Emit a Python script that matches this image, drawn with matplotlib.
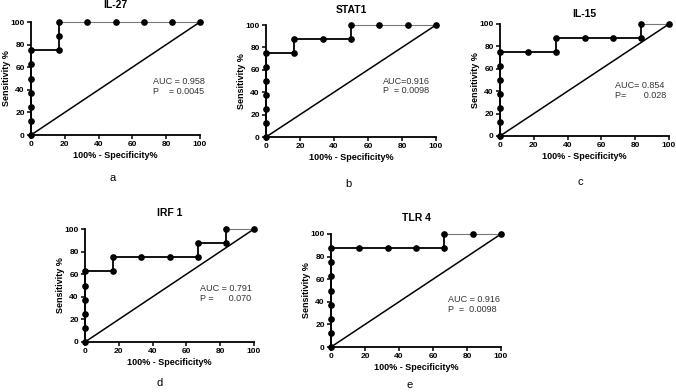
import matplotlib
matplotlib.use('Agg')
import matplotlib.pyplot as plt

plt.rcParams['font.family'] = ['Liberation Sans', 'DejaVu Sans']

# ROC points (100% - specificity, sensitivity)
il27_x = [0, 0, 0, 0, 0, 0, 0, 16.67, 16.67, 16.67, 33.33, 50, 66.67, 83.33, 100]
il27_y = [0, 12.5, 25, 37.5, 50, 62.5, 75, 75, 87.5, 100, 100, 100, 100, 100, 100]

stat1_x = [0, 0, 0, 0, 0, 0, 0, 16.67, 16.67, 33.33, 50, 50, 66.67, 83.33, 100]
stat1_y = [0, 12.5, 25, 37.5, 50, 62.5, 75, 75, 87.5, 87.5, 87.5, 100, 100, 100, 100]

il15_x = [0, 0, 0, 0, 0, 0, 0, 16.67, 33.33, 33.33, 50, 66.67, 83.33, 83.33, 100]
il15_y = [0, 12.5, 25, 37.5, 50, 62.5, 75, 75, 75, 87.5, 87.5, 87.5, 87.5, 100, 100]

irf1_x = [0, 0, 0, 0, 0, 0, 16.67, 16.67, 33.33, 50, 66.67, 66.67, 83.33, 83.33, 100]
irf1_y = [0, 12.5, 25, 37.5, 50, 62.5, 62.5, 75, 75, 75, 75, 87.5, 87.5, 100, 100]

tlr4_x = [0, 0, 0, 0, 0, 0, 0, 0, 16.67, 33.33, 50, 66.67, 66.67, 83.33, 100]
tlr4_y = [0, 12.5, 25, 37.5, 50, 62.5, 75, 87.5, 87.5, 87.5, 87.5, 87.5, 100, 100, 100]

titles = ['IL-27', 'STAT1', 'IL-15', 'IRF 1', 'TLR 4']
letters = ['a', 'b', 'c', 'd', 'e']
stats = ['AUC = 0.958\nP    = 0.0045',
         'AUC=0.916\nP  = 0.0098',
         'AUC= 0.854\nP=       0.028',
         'AUC = 0.791\nP =      0.070',
         'AUC = 0.916\nP  =  0.0098']
stat_pos = [(72, 51), (69, 54), (68, 49), (68, 51), (69, 46)]

curves = [(il27_x, il27_y), (stat1_x, stat1_y), (il15_x, il15_y),
          (irf1_x, irf1_y), (tlr4_x, tlr4_y)]

# axes boxes in pixels: left, right, top, bottom
boxes = [(31, 200, 22, 135), (266, 436, 25, 137), (500, 669, 24, 136),
         (85, 254, 229, 342), (331, 501, 234, 347)]
title_pads = [9.9, 8.4, 4.8, 9.1, 9.1]
letter_px = [(113, 178), (348, 184), (580, 182), (160, 383), (410, 385)]

W, H = 676, 392
fig = plt.figure(figsize=(W / 100, H / 100), dpi=100)

for i, (l, r, t, b) in enumerate(boxes):
    ax = fig.add_axes([l / W, 1 - b / H, (r - l) / W, (b - t) / H])
    x, y = curves[i]
    # top segment drawn lighter
    k = y.index(100)
    ax.plot(x[:k + 1], y[:k + 1], color='black', lw=1.3, clip_on=False, zorder=3)
    ax.plot(x[k:], y[k:], color='#777777', lw=0.8, clip_on=False, zorder=3)
    ax.plot(x, y, 'o', color='black', ms=3.8, clip_on=False, zorder=4)
    ax.plot([0, 100], [0, 100], color='black', lw=1.1, clip_on=False, zorder=2)
    ax.set_xlim(0, 100)
    ax.set_ylim(0, 100)
    ax.set_xticks(range(0, 101, 20))
    ax.set_yticks(range(0, 101, 20))
    ax.spines[['top', 'right']].set_visible(False)
    for s in ['left', 'bottom']:
        ax.spines[s].set_linewidth(1.3)
    ax.tick_params(direction='out', length=3, width=1.1, labelsize=6, pad=1.5)
    for lab in ax.get_xticklabels() + ax.get_yticklabels():
        lab.set_fontweight('bold')
    ax.set_xlabel('100% - Specificity%', fontsize=6.5, fontweight='bold', labelpad=2)
    ax.set_ylabel('Sensitivity %', fontsize=6.5, fontweight='bold')
    ax.yaxis.set_label_coords(-20 / (r - l), 0.5)
    ax.set_title(titles[i], fontsize=7.5, fontweight='bold', pad=title_pads[i])
    sx, sy = stat_pos[i]
    ax.text(sx, sy, stats[i], fontsize=6.5, color='#333333', va='top',
            linespacing=1.1)
    lx, ly = letter_px[i]
    fig.text(lx / W, 1 - ly / H, letters[i], fontsize=8, ha='center', va='center')

fig.savefig('out.png', dpi=100)
